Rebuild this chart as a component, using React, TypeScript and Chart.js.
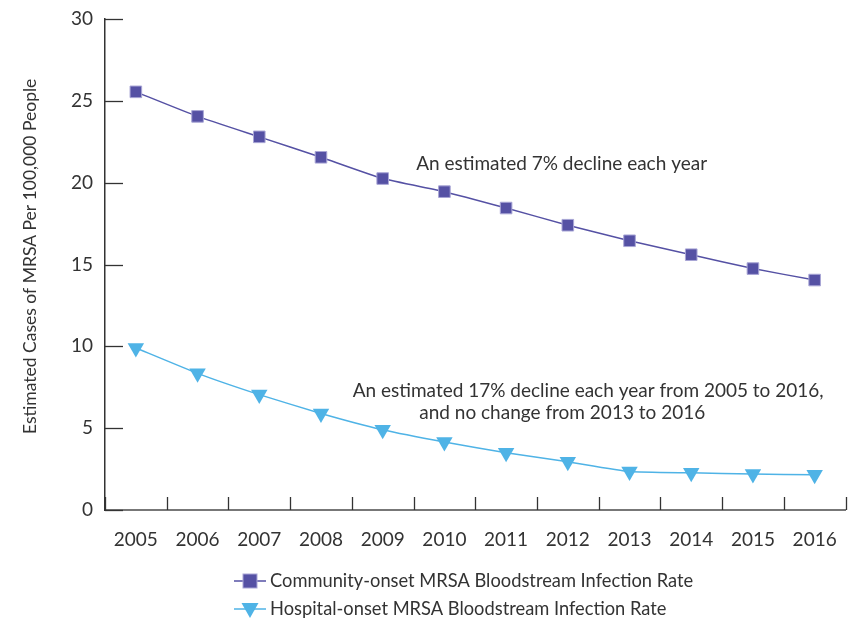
import React, { useEffect, useRef } from "react";
import { Chart, registerables } from "chart.js";

Chart.register(...registerables);

const years = ["2005", "2006", "2007", "2008", "2009", "2010", "2011", "2012", "2013", "2014", "2015", "2016"];
const community = [25.55, 24.05, 22.8, 21.55, 20.25, 19.45, 18.45, 17.4, 16.45, 15.6, 14.75, 14.05];
const hospital = [9.9, 8.35, 7.05, 5.9, 4.9, 4.15, 3.5, 2.95, 2.35, 2.27, 2.2, 2.15];
const seriesLabels = [
  "Community-onset MRSA Bloodstream Infection Rate",
  "Hospital-onset MRSA Bloodstream Infection Rate",
];
const yTitle = "Estimated Cases of MRSA Per 100,000 People";
const yMin = 0;
const yMax = 30;
const yStep = 5;

const noteTexts = [
  "An estimated 7% decline each year",
  "An estimated 17% decline each year from 2005 to 2016,",
  "and no change from 2013 to 2016",
];
const noteX = [6.9, 7.33, 6.91]; // category index positions
const noteY = [21.15, 7.3, 5.96]; // value positions

const FONT = "Lato, 'Open Sans', sans-serif";
const TEXT = "#333333";
const PURPLE = "#5551A4";
const PURPLE_EDGE = "#A9A6D6";
const BLUE = "#4FB3E6";

const overlay = {
  id: "overlay",
  afterDraw(chart: any) {
    const ctx = chart.ctx;
    const xs = chart.scales.x;
    const ys = chart.scales.y;
    const area = chart.chartArea;
    ctx.save();
    // inward ticks
    ctx.strokeStyle = "#333333";
    ctx.lineWidth = 1.3;
    ys.ticks.forEach((t: any) => {
      const py = Math.round(ys.getPixelForValue(t.value)) + 0.5;
      ctx.beginPath();
      ctx.moveTo(area.left, py);
      ctx.lineTo(area.left + 18, py);
      ctx.stroke();
    });
    for (let i = 0; i <= years.length; i++) {
      const px = Math.round(xs.getPixelForValue(i - 0.5)) + 0.5;
      ctx.beginPath();
      ctx.moveTo(px, area.bottom);
      ctx.lineTo(px, area.bottom - 13);
      ctx.stroke();
    }
    // annotations
    ctx.fillStyle = TEXT;
    ctx.font = `19px ${FONT}`;
    ctx.textAlign = "center";
    ctx.textBaseline = "middle";
    noteTexts.forEach((txt, i) => {
      ctx.fillText(txt, xs.getPixelForValue(noteX[i]), ys.getPixelForValue(noteY[i]));
    });
    // y title
    ctx.save();
    ctx.translate(22, ys.getPixelForValue(15.5));
    ctx.rotate(-Math.PI / 2);
    ctx.font = `17.5px ${FONT}`;
    ctx.fillText(yTitle, 0, 0);
    ctx.restore();
    // legend
    const lx = 226;
    const rows = [573, 601];
    chart.data.datasets.forEach((ds: any, i: number) => {
      const y = rows[i];
      ctx.strokeStyle = ds.borderColor;
      ctx.lineWidth = 1.5;
      ctx.beginPath();
      ctx.moveTo(lx, y);
      ctx.lineTo(lx + 32, y);
      ctx.stroke();
      const cx = lx + 16;
      if (i === 0) {
        ctx.fillStyle = ds.pointBackgroundColor;
        ctx.fillRect(cx - 7, y - 7, 14, 14);
        ctx.strokeStyle = ds.pointBorderColor;
        ctx.lineWidth = 1;
        ctx.strokeRect(cx - 7, y - 7, 14, 14);
      } else {
        ctx.fillStyle = ds.pointBackgroundColor;
        ctx.beginPath();
        ctx.moveTo(cx - 8.5, y - 6);
        ctx.lineTo(cx + 8.5, y - 6);
        ctx.lineTo(cx, y + 9);
        ctx.closePath();
        ctx.fill();
      }
      ctx.fillStyle = TEXT;
      ctx.font = `18.3px ${FONT}`;
      ctx.textAlign = "left";
      ctx.fillText(ds.label, lx + 36, y);
    });
    ctx.restore();
  },
};

export default function App() {
  const ref = useRef<HTMLCanvasElement | null>(null);
  useEffect(() => {
    document.body.style.overflow = "hidden";
    if (!ref.current) return;
    const chart = new Chart(ref.current, {
      type: "line",
      data: {
        labels: years,
        datasets: [
          {
            label: seriesLabels[0],
            data: community,
            borderColor: PURPLE,
            backgroundColor: PURPLE,
            borderWidth: 1.5,
            pointStyle: "rect",
            pointRadius: 8.2,
            pointHoverRadius: 8.2,
            pointBackgroundColor: PURPLE,
            pointBorderColor: PURPLE_EDGE,
            pointBorderWidth: 1,
            tension: 0.15,
          },
          {
            label: seriesLabels[1],
            data: hospital,
            borderColor: BLUE,
            backgroundColor: BLUE,
            borderWidth: 1.5,
            pointStyle: "triangle",
            rotation: 180,
            pointRadius: 9.5,
            pointHoverRadius: 9.5,
            pointBackgroundColor: BLUE,
            pointBorderColor: BLUE,
            pointBorderWidth: 0,
            tension: 0.15,
          },
        ],
      },
      options: {
        responsive: false,
        animation: false,
        layout: { padding: { left: 0, right: 1, top: 11, bottom: 0 } },
        plugins: { legend: { display: false }, tooltip: { enabled: false } },
        scales: {
          x: {
            offset: true,
            grid: { display: false, drawTicks: false },
            border: { display: true, color: "#777777", width: 2 },
            ticks: { color: TEXT, font: { family: FONT, size: 19 }, padding: 18, maxRotation: 0 },
            afterFit: (s: any) => {
              s.height = 110;
              s.paddingLeft = 0;
              s.paddingRight = 0;
            },
          },
          y: {
            min: yMin,
            max: yMax,
            grid: { display: false, drawTicks: false },
            border: { display: true, color: "#333333", width: 1.5 },
            ticks: { stepSize: yStep, color: TEXT, font: { family: FONT, size: 19 }, padding: 12 },
            afterFit: (s: any) => {
              s.width = 97;
              s.paddingTop = 0;
              s.paddingBottom = 0;
            },
          },
        },
      },
      plugins: [overlay],
    });
    return () => chart.destroy();
  }, []);
  return (
    <div style={{ width: 847, height: 612 }}>
      <canvas ref={ref} width={847} height={612} style={{ display: "block" }} />
    </div>
  );
}
